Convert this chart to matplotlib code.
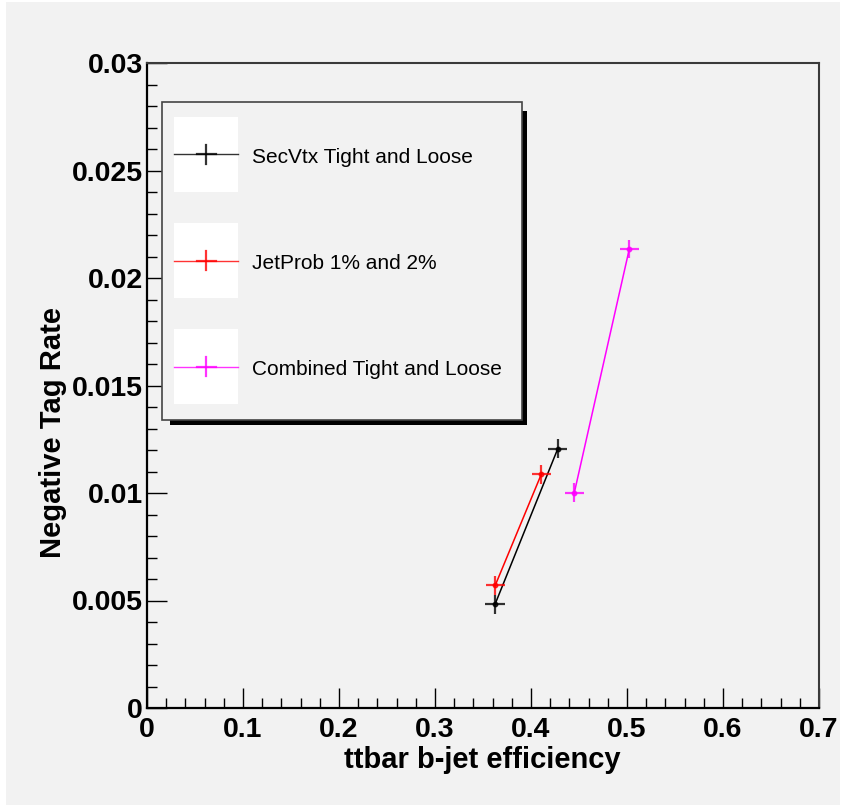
import matplotlib
matplotlib.use('agg')
import matplotlib.pyplot as plt
from matplotlib.patches import Rectangle
from matplotlib.lines import Line2D
from matplotlib.ticker import MultipleLocator, FuncFormatter

# data
secvtx_eff = [0.3625, 0.4278]
secvtx_rate = [0.00482, 0.01205]
jetprob_eff = [0.3628, 0.4107]
jetprob_rate = [0.00571, 0.01087]
combined_eff = [0.4451, 0.5024]
combined_rate = [0.01001, 0.02135]
eff_err = 0.0099
rate_err = 0.00044

series_labels = ['SecVtx Tight and Loose', 'JetProb 1% and 2%', 'Combined Tight and Loose']
series_colors = ['black', 'red', 'magenta']
x_ticks = [0, 0.1, 0.2, 0.3, 0.4, 0.5, 0.6, 0.7]
y_ticks = [0, 0.005, 0.01, 0.015, 0.02, 0.025, 0.03]

W, H = 841, 805
BG = '#f2f2f2'


def fx(px):
    return px / W


def fy(py):
    return 1 - py / H


fig = plt.figure(figsize=(W / 100, H / 100), dpi=100)
fig.patch.set_facecolor('white')
fig.patches.append(Rectangle((fx(6), 0), fx(840) - fx(6), fy(2), transform=fig.transFigure,
                             facecolor=BG, edgecolor='none', zorder=-10))

ax = fig.add_axes([fx(147), fy(708), (819 - 147) / W, (708 - 63) / H])
ax.set_facecolor('none')

series = [(secvtx_eff, secvtx_rate), (jetprob_eff, jetprob_rate), (combined_eff, combined_rate)]
for (xs, ys), c in zip(series, series_colors):
    ax.plot(xs, ys, color=c, lw=1.1, zorder=3)
    ax.errorbar(xs, ys, xerr=eff_err, yerr=rate_err, fmt='o', ms=3.2, color=c,
                ecolor=c, elinewidth=1.6, capsize=0, alpha=0.8, zorder=4)

ax.set_xlim(0, 0.7)
ax.set_ylim(0, 0.03)
ax.set_xticks(x_ticks)
ax.set_yticks(y_ticks)
ax.xaxis.set_minor_locator(MultipleLocator(0.02))
ax.yaxis.set_minor_locator(MultipleLocator(0.001))
fmt = FuncFormatter(lambda v, p: '%g' % round(v, 4))
ax.xaxis.set_major_formatter(fmt)
ax.yaxis.set_major_formatter(fmt)

tick_font = dict(family='Liberation Sans', weight='bold', size=20.5)
for lab in ax.get_xticklabels() + ax.get_yticklabels():
    lab.set_fontproperties(matplotlib.font_manager.FontProperties(**tick_font))

ax.tick_params(which='both', direction='in', top=False, right=False, color='black', width=1)
ax.tick_params(which='major', length=14.4)
ax.tick_params(which='minor', length=7.2)
ax.tick_params(axis='x', which='major', pad=6.5)
ax.tick_params(axis='y', which='major', pad=3)

for side in ['left', 'bottom']:
    ax.spines[side].set_linewidth(1.6)
    ax.spines[side].set_color('black')
for side in ['top', 'right']:
    ax.spines[side].set_linewidth(1.5)
    ax.spines[side].set_color('#3a3a3a')

# axis titles
fig.text(fx(482), fy(768), 'ttbar b-jet efficiency', ha='center', va='baseline',
         family='Liberation Sans', weight='bold', fontsize=21)
fig.text(fx(53), fy(433), 'Negative Tag Rate', ha='center', va='center', rotation=90,
         family='Liberation Sans', weight='bold', fontsize=21)

# legend box with shadow
fig.patches.append(Rectangle((fx(170), fy(425)), (527 - 170) / W, (425 - 111) / H,
                             transform=fig.transFigure, facecolor='black', edgecolor='none', zorder=5))
fig.patches.append(Rectangle((fx(161.7), fy(420)), (521.7 - 161.7) / W, (420 - 101.7) / H,
                             transform=fig.transFigure, facecolor=BG, edgecolor='#444444',
                             lw=1.2, zorder=6))

entry_y = [154.3, 260.7, 366.7]
for yc, lab, c in zip(entry_y, series_labels, series_colors):
    fig.patches.append(Rectangle((fx(174), fy(yc + 37.5)), 64 / W, 75 / H,
                                 transform=fig.transFigure, facecolor='white',
                                 edgecolor='none', zorder=7))
    fig.lines.append(Line2D([fx(174), fx(238)], [fy(yc), fy(yc)], transform=fig.transFigure,
                            color=c, lw=1.0, alpha=0.8, zorder=8))
    fig.lines.append(Line2D([fx(196.5), fx(215.5)], [fy(yc), fy(yc)], transform=fig.transFigure,
                            color=c, lw=1.6, alpha=0.8, zorder=8))
    fig.lines.append(Line2D([fx(206), fx(206)], [fy(yc - 9.5), fy(yc + 9.5)], transform=fig.transFigure,
                            color=c, lw=1.6, alpha=0.8, zorder=8))
    fig.text(fx(251.7), fy(yc + 8.3), lab, ha='left', va='baseline',
             family='Liberation Sans', fontsize=15, zorder=9)

fig.savefig('out.png', dpi=100)
